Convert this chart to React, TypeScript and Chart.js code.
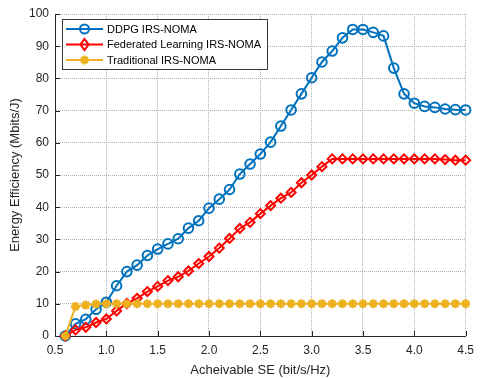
import { useEffect, useRef } from "react";
import { Chart, registerables } from "chart.js";

Chart.register(...registerables);

// Achievable spectral efficiency sample points (bit/s/Hz)
const seValues = [
  0.6, 0.7, 0.8, 0.9, 1.0, 1.1, 1.2, 1.3, 1.4, 1.5,
  1.6, 1.7, 1.8, 1.9, 2.0, 2.1, 2.2, 2.3, 2.4, 2.5,
  2.6, 2.7, 2.8, 2.9, 3.0, 3.1, 3.2, 3.3, 3.4, 3.5,
  3.6, 3.7, 3.8, 3.9, 4.0, 4.1, 4.2, 4.3, 4.4, 4.5,
];

// Energy efficiency (Mbits/J) per scheme
const ddpgEE = [
  0, 3.8, 5.2, 8.3, 10.5, 15.6, 20, 22, 25, 27,
  28.6, 30.2, 33.5, 35.8, 39.7, 42.5, 45.5, 50.3, 53.4, 56.5,
  60.2, 65.2, 70.2, 75.2, 80.2, 85.1, 88.5, 92.6, 95.2, 95.2,
  94.3, 93.2, 83.2, 75.2, 72.3, 71.3, 71, 70.5, 70.3, 70.2,
];
const fedEE = [
  0, 1.9, 2.7, 4.2, 5.3, 7.8, 10.1, 11.7, 13.8, 15.4,
  17.2, 18.4, 20.2, 22.5, 24.7, 27.3, 30.3, 33.4, 35.3, 38,
  40.5, 42.8, 44.6, 47.6, 50, 52.6, 55, 55, 55, 55,
  55, 55, 55, 55, 55, 55, 55, 54.8, 54.6, 54.6,
];
const tradEE = [
  0, 9.2, 9.6, 9.9, 10, 10, 10, 10, 10, 10,
  10, 10, 10, 10, 10, 10, 10, 10, 10, 10,
  10, 10, 10, 10, 10, 10, 10, 10, 10, 10,
  10, 10, 10, 10, 10, 10, 10, 10, 10, 10,
];

const seriesNames = ["DDPG IRS-NOMA", "Federated Learning IRS-NOMA", "Traditional IRS-NOMA"];
const seriesColors = ["#0072BD", "#FF0000", "#EDB120"];

const xTicks = [0.5, 1, 1.5, 2, 2.5, 3, 3.5, 4, 4.5];
const yTicks = [0, 10, 20, 30, 40, 50, 60, 70, 80, 90, 100];

const FONT = "'Liberation Sans', Arial, Helvetica, sans-serif";
const TEXT = "#262626";

function toPoints(ys: number[]) {
  return seValues.map((x, i) => ({ x, y: ys[i] }));
}

function drawMarker(ctx: CanvasRenderingContext2D, kind: string, x: number, y: number, color: string) {
  ctx.save();
  ctx.strokeStyle = color;
  ctx.fillStyle = color;
  ctx.lineWidth = 2;
  ctx.beginPath();
  if (kind === "circle") {
    ctx.arc(x, y, 4.5, 0, Math.PI * 2);
    ctx.stroke();
  } else if (kind === "diamond") {
    const r = 5.5;
    ctx.moveTo(x, y - r);
    ctx.lineTo(x + r * 0.75, y);
    ctx.lineTo(x, y + r);
    ctx.lineTo(x - r * 0.75, y);
    ctx.closePath();
    ctx.stroke();
  } else {
    ctx.lineWidth = 2.5;
    const r = 4.5;
    for (let k = 0; k < 4; k++) {
      const a = (k * Math.PI) / 4;
      ctx.moveTo(x - r * Math.cos(a), y - r * Math.sin(a));
      ctx.lineTo(x + r * Math.cos(a), y + r * Math.sin(a));
    }
    ctx.stroke();
  }
  ctx.restore();
}

// Inward tick marks on the left and bottom axes
const innerTicks = {
  id: "innerTicks",
  afterDatasetsDraw(chart: any) {
    const { ctx, chartArea, scales } = chart;
    ctx.save();
    ctx.strokeStyle = TEXT;
    ctx.lineWidth = 1;
    ctx.beginPath();
    yTicks.forEach((v) => {
      const py = Math.round(scales.y.getPixelForValue(v)) + 0.5;
      ctx.moveTo(chartArea.left, py);
      ctx.lineTo(chartArea.left + 5, py);
    });
    xTicks.forEach((v) => {
      const px = Math.round(scales.x.getPixelForValue(v)) + 0.5;
      ctx.moveTo(px, chartArea.bottom);
      ctx.lineTo(px, chartArea.bottom - 5);
    });
    ctx.stroke();
    ctx.restore();
  },
};

// Legend box with line + marker samples
const boxLegend = {
  id: "boxLegend",
  afterDraw(chart: any) {
    const { ctx, chartArea } = chart;
    const left = chartArea.left + 7;
    const top = chartArea.top + 5;
    const w = 205;
    const h = 50;
    ctx.save();
    ctx.fillStyle = "#ffffff";
    ctx.fillRect(left, top, w, h);
    ctx.strokeStyle = "#3a3a3a";
    ctx.lineWidth = 1;
    ctx.strokeRect(left + 0.5, top + 0.5, w, h);
    const kinds = ["circle", "diamond", "star"];
    ctx.font = `11px ${FONT}`;
    ctx.textBaseline = "middle";
    ctx.textAlign = "left";
    seriesNames.forEach((name, i) => {
      const cy = top + 10 + i * 15.5;
      ctx.strokeStyle = seriesColors[i];
      ctx.lineWidth = 2;
      ctx.beginPath();
      ctx.moveTo(left + 4, cy);
      ctx.lineTo(left + 41, cy);
      ctx.stroke();
      drawMarker(ctx, kinds[i], left + 22.5, cy, seriesColors[i]);
      ctx.fillStyle = "#000000";
      ctx.fillText(name, left + 45, cy + 0.5);
    });
    ctx.restore();
  },
};

export default function App() {
  const canvasRef = useRef<HTMLCanvasElement | null>(null);

  useEffect(() => {
    if (!canvasRef.current) return;
    const gridCommon = {
      color: "#b0b0b0",
      lineWidth: 1,
      drawTicks: false,
    };
    const chart = new Chart(canvasRef.current, {
      type: "line",
      data: {
        datasets: [
          {
            label: seriesNames[2],
            data: toPoints(tradEE),
            borderColor: seriesColors[2],
            backgroundColor: seriesColors[2],
            borderWidth: 2,
            pointStyle: "star",
            pointRadius: 4.5,
            pointBorderWidth: 2.5,
            pointBorderColor: seriesColors[2],
            pointBackgroundColor: seriesColors[2],
            order: 1,
            clip: false,
          },
          {
            label: seriesNames[1],
            data: toPoints(fedEE),
            borderColor: seriesColors[1],
            backgroundColor: "rgba(0,0,0,0)",
            borderWidth: 2,
            pointStyle: "rectRot",
            pointRadius: 4.5,
            pointBorderWidth: 2,
            pointBackgroundColor: "rgba(0,0,0,0)",
            order: 2,
            clip: false,
          },
          {
            label: seriesNames[0],
            data: toPoints(ddpgEE),
            borderColor: seriesColors[0],
            backgroundColor: "rgba(0,0,0,0)",
            borderWidth: 2,
            pointStyle: "circle",
            pointRadius: 4.8,
            pointBorderWidth: 2,
            pointBackgroundColor: "rgba(0,0,0,0)",
            order: 3,
            clip: false,
          },
        ],
      },
      options: {
        responsive: false,
        animation: false,
        events: [],
        layout: { padding: { top: 14, right: 9, left: 0, bottom: 0 } },
        plugins: {
          legend: { display: false },
          tooltip: { enabled: false },
        },
        scales: {
          x: {
            type: "linear",
            min: 0.5,
            max: 4.5,
            afterBuildTicks: (s: any) => {
              s.ticks = xTicks.map((v) => ({ value: v }));
            },
            afterFit: (s: any) => {
              s.height = 42;
            },
            grid: gridCommon,
            border: { display: true, color: TEXT, width: 1, dash: [1, 1] },
            ticks: {
              color: TEXT,
              font: { family: FONT, size: 12 },
              padding: 7,
              maxRotation: 0,
              autoSkip: false,
            },
            title: {
              display: true,
              text: "Acheivable SE (bit/s/Hz)",
              color: TEXT,
              font: { family: FONT, size: 13 },
              padding: { top: 2, bottom: 0 },
            },
          },
          y: {
            type: "linear",
            min: 0,
            max: 100,
            afterBuildTicks: (s: any) => {
              s.ticks = yTicks.map((v) => ({ value: v }));
            },
            afterFit: (s: any) => {
              s.width = 55;
            },
            grid: gridCommon,
            border: { display: true, color: TEXT, width: 1, dash: [1, 1] },
            ticks: {
              color: TEXT,
              font: { family: FONT, size: 12 },
              padding: 6,
              autoSkip: false,
            },
            title: {
              display: true,
              text: "Energy Efficiency (Mbits/J)",
              color: TEXT,
              font: { family: FONT, size: 13 },
              padding: { top: 8, bottom: 0 },
            },
          },
        },
      },
      plugins: [innerTicks, boxLegend],
    });
    return () => chart.destroy();
  }, []);

  return (
    <div style={{ position: "absolute", left: 0, top: 0, width: 481, height: 378, background: "#fff" }}>
      <canvas ref={canvasRef} width={481} height={378} />
    </div>
  );
}
